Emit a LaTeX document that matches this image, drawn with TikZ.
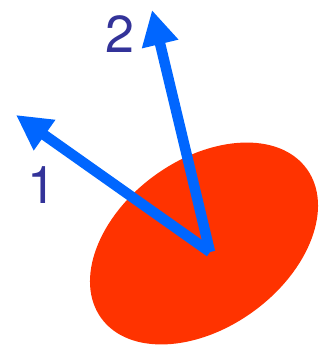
\documentclass[tikz,border=0pt]{standalone}
\usepackage{fontspec}
\setmainfont{TeX Gyre Heros}
\usetikzlibrary{arrows.meta,positioning,shapes.geometric}
\definecolor{bodyred}{HTML}{FF3300}
\definecolor{axisblue}{HTML}{0066FF}
\definecolor{labelblue}{HTML}{333399}
\begin{document}
\begin{tikzpicture}[
    x=1pt, y=1pt,
    body/.style={ellipse, fill=bodyred, minimum width=254pt, minimum height=168pt,
      inner sep=0pt, rotate=36},
    axis/.style={-{Triangle[length=35pt, width=35pt]}, axisblue, line width=10.5pt},
    lbl/.style={text=labelblue, font=\fontsize{52}{52}\selectfont, inner sep=0pt}
  ]
    \useasboundingbox (0,0) rectangle (327,350);
    \node[body] (blob) at (204,106.5) {};
    \coordinate (origin) at (210,98);
    \coordinate (tipone) at (16,235);
    \coordinate (tiptwo) at (152,340);
    \draw[axis] (origin) -- (tipone);
    \draw[axis] (origin) -- (tiptwo);
    \node[lbl] (one) at (42,165) {1};
    \node[lbl] (two) at (120,316) {2};
  \end{tikzpicture}
\end{document}
